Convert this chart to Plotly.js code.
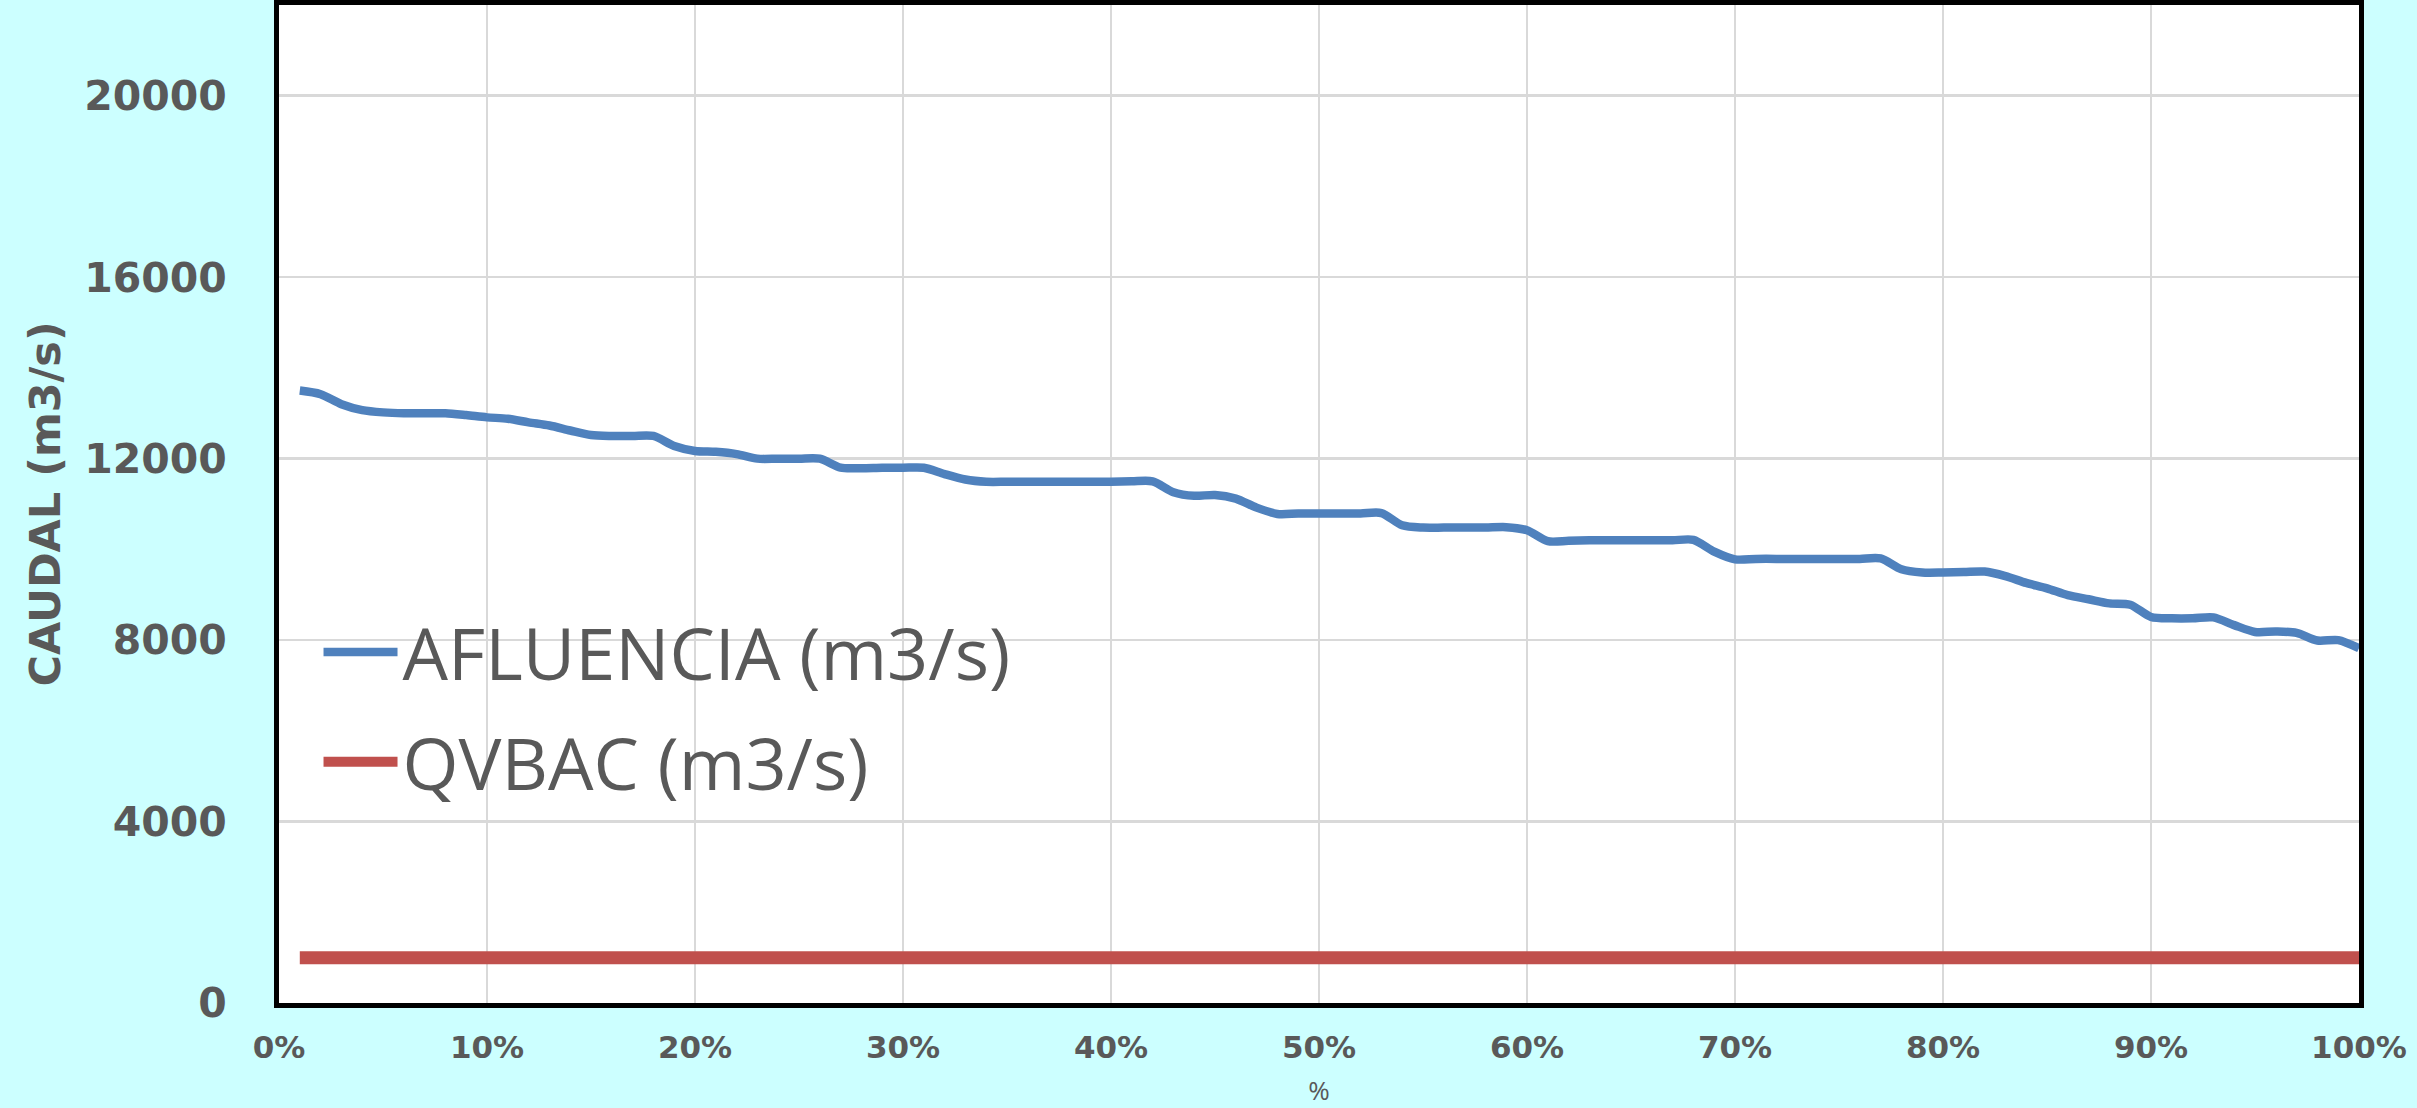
<!DOCTYPE html>
<html>
<head>
<meta charset="utf-8">
<script src="https://cdn.plot.ly/plotly-3.0.1.min.js"></script>
<style>
  html, body { margin: 0; padding: 0; background: #CCFFFF; }
  #chart { width: 2417px; height: 1108px; }
</style>
</head>
<body>
<div id="chart"></div>
<script>
// Percent of time (exceedance, %)
const percent = [];
for (let i = 1; i <= 100; i++) percent.push(i);

// AFLUENCIA (m3/s)
const afluencia = [
  13500, 13420, 13200, 13070, 13020, 13000, 13000, 13000, 12960, 12910,
  12880, 12800, 12730, 12620, 12520, 12500, 12500, 12500, 12280, 12170,
  12150, 12100, 12000, 12000, 12000, 12000, 11800, 11790, 11800, 11800,
  11800, 11660, 11540, 11490, 11490, 11490, 11490, 11490, 11490, 11490,
  11500, 11500, 11260, 11180, 11200, 11120, 10920, 10780, 10790, 10790,
  10790, 10790, 10800, 10530, 10480, 10480, 10480, 10480, 10490, 10420,
  10180, 10190, 10200, 10200, 10200, 10200, 10200, 10210, 9950, 9780,
  9790, 9790, 9790, 9790, 9790, 9790, 9800, 9560, 9490, 9490,
  9500, 9510, 9410, 9260, 9140, 8990, 8900, 8810, 8780, 8510,
  8480, 8480, 8500, 8330, 8180, 8190, 8160, 7990, 8000, 7820
];

// QVBAC (m3/s): constant
const qvbac = percent.map(() => 1000);

const seriesNames = ['AFLUENCIA (m3/s)', 'QVBAC (m3/s)'];
const yTicks = [0, 4000, 8000, 12000, 16000, 20000];

const grey = '#595959';

const traces = [
  {
    x: percent, y: afluencia, name: seriesNames[0], type: 'scatter', mode: 'lines',
    line: { color: '#4F81BD', width: 8.5, shape: 'spline', smoothing: 0.8 },
    legendgroup: 'a'
  },
  {
    x: percent, y: qvbac, name: seriesNames[1], type: 'scatter', mode: 'lines',
    line: { color: '#C0504D', width: 13 },
    legendgroup: 'b'
  }
];

const layout = {
  width: 2417, height: 1108,
  paper_bgcolor: '#CCFFFF',
  plot_bgcolor: '#FFFFFF',
  margin: { l: 279, r: 58, t: 5, b: 105 },
  showlegend: true,
  legend: {
    x: 0.019, y: 0.405, xanchor: 'left', yanchor: 'top',
    bgcolor: 'rgba(0,0,0,0)',
    font: { family: 'Open Sans', size: 72, color: grey },
    itemwidth: 74,
    traceorder: 'grouped',
    tracegroupgap: 13
  },
  xaxis: {
    range: [0, 100], dtick: 10, tick0: 0, ticksuffix: '%',
    showgrid: true, gridcolor: '#D9D9D9', gridwidth: 2.5,
    zeroline: false,
    showline: true, linecolor: '#000000', linewidth: 5, mirror: true,
    ticks: '', ticklabelstandoff: 13,
    tickfont: { family: 'DejaVu Sans', size: 31, color: grey, weight: 'bold' },
    title: { text: '%', font: { family: 'Open Sans', size: 26, color: grey }, standoff: 27 }
  },
  yaxis: {
    range: [0, 22000], tickvals: yTicks, ticktext: yTicks.map(String),
    showgrid: true, gridcolor: '#D9D9D9', gridwidth: 2.5,
    zeroline: false,
    showline: true, linecolor: '#000000', linewidth: 5, mirror: true,
    ticks: '', ticklabelstandoff: 39,
    tickfont: { family: 'DejaVu Sans', size: 41, color: grey, weight: 'bold' },
    title: { text: 'CAUDAL (m3/s)', font: { family: 'DejaVu Sans', size: 43, color: grey, weight: 'bold' }, standoff: 12 }
  }
};

Plotly.newPlot('chart', traces, layout, { displayModeBar: false, staticPlot: true });
</script>
</body>
</html>
